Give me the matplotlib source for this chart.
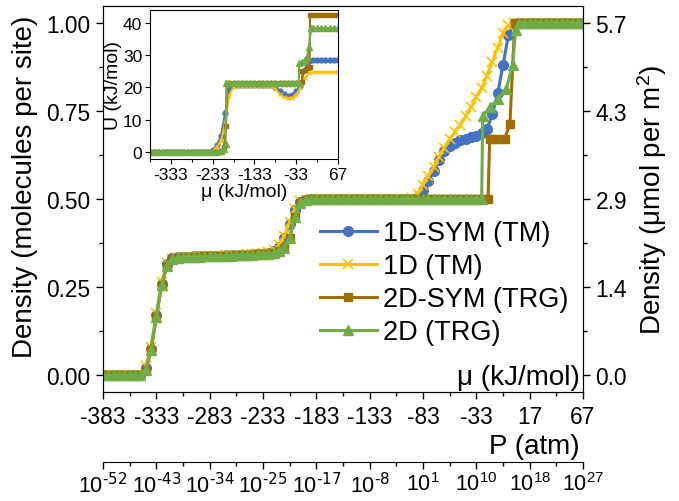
import matplotlib.pyplot as plt
from matplotlib.ticker import AutoMinorLocator

plt.rcParams['font.family'] = ['Liberation Sans', 'DejaVu Sans']
plt.rcParams['mathtext.default'] = 'regular'

# ---- main panel: density vs chemical potential (kJ/mol) ----
mu = [-383, -378, -373, -368, -363, -358, -353, -348, -343, -338,
      -333, -328, -323, -318, -313, -308, -303, -298, -293, -288,
      -283, -278, -273, -268, -263, -258, -253, -248, -243, -238,
      -233, -228, -223, -218, -213, -208, -203, -198, -193, -188,
      -183, -178, -173, -168, -163, -158, -153, -148, -143, -138,
      -133, -128, -123, -118, -113, -108, -103, -98, -93, -88,
      -83, -78, -73, -68, -63, -58, -53, -48, -43, -38,
      -33, -28, -23, -18, -13, -8, -3, 2, 7, 12,
      17, 22, 27, 32, 37, 42, 47, 52, 57, 62,
      67]

dens_1dsym = [0, 0, 0, 0, 0, 0, 0, 0, 0.02, 0.075,
              0.17, 0.26, 0.315, 0.332, 0.334, 0.335, 0.336, 0.337, 0.337, 0.338,
              0.338, 0.339, 0.339, 0.34, 0.34, 0.341, 0.342, 0.342, 0.343, 0.344,
              0.345, 0.347, 0.352, 0.365, 0.39, 0.43, 0.47, 0.492, 0.498, 0.5,
              0.5, 0.5, 0.5, 0.5, 0.5, 0.5, 0.5, 0.5, 0.5, 0.5,
              0.5, 0.5, 0.5, 0.5, 0.5, 0.5, 0.5, 0.5, 0.5, 0.505,
              0.525, 0.55, 0.58, 0.61, 0.635, 0.65, 0.66, 0.667, 0.671, 0.675,
              0.68, 0.687, 0.70, 0.74, 0.80, 0.88, 0.965, 0.998, 1.0, 1.0,
              1.0, 1.0, 1.0, 1.0, 1.0, 1.0, 1.0, 1.0, 1.0, 1.0,
              1.0]

dens_1d = [0, 0, 0, 0, 0, 0, 0, 0, 0.025, 0.08,
           0.175, 0.265, 0.318, 0.331, 0.333, 0.334, 0.335, 0.336, 0.337, 0.337,
           0.338, 0.338, 0.339, 0.34, 0.34, 0.341, 0.342, 0.343, 0.344, 0.345,
           0.347, 0.35, 0.356, 0.37, 0.395, 0.435, 0.472, 0.493, 0.498, 0.5,
           0.5, 0.5, 0.5, 0.5, 0.5, 0.5, 0.5, 0.5, 0.5, 0.5,
           0.5, 0.5, 0.5, 0.5, 0.5, 0.5, 0.5, 0.5, 0.502, 0.515,
           0.54, 0.565, 0.59, 0.62, 0.645, 0.67, 0.69, 0.71, 0.735, 0.76,
           0.79, 0.815, 0.85, 0.89, 0.93, 0.97, 0.993, 1.0, 1.0, 1.0,
           1.0, 1.0, 1.0, 1.0, 1.0, 1.0, 1.0, 1.0, 1.0, 1.0,
           1.0]

# TRG curves overlap up to -33 kJ/mol
trg_low = [0, 0, 0, 0, 0, 0, 0, 0, 0.015, 0.07,
           0.165, 0.255, 0.31, 0.33, 0.333, 0.334, 0.335, 0.336, 0.336, 0.337,
           0.337, 0.338, 0.338, 0.339, 0.339, 0.34, 0.34, 0.341, 0.342, 0.343,
           0.344, 0.345, 0.347, 0.352, 0.362, 0.39, 0.45, 0.49, 0.498, 0.5,
           0.5, 0.5, 0.5, 0.5, 0.5, 0.5, 0.5, 0.5, 0.5, 0.5,
           0.5, 0.5, 0.5, 0.5, 0.5, 0.5, 0.5, 0.5, 0.5, 0.5,
           0.5, 0.5, 0.5, 0.5, 0.5, 0.5, 0.5, 0.5, 0.5, 0.5,
           0.5]
top_mu = [12, 17, 22, 27, 32, 37, 42, 47, 52, 57, 62, 67]
top_dens = [1.0, 1.0, 1.0, 1.0, 1.0, 1.0, 1.0, 1.0, 1.0, 1.0, 1.0, 1.0]

mu_2dsym = mu[:71] + [-28, -22, -20.5, -17, -12.5, -6.5, -1.5, 3, 7] + top_mu
dens_2dsym = trg_low + [0.5, 0.5, 0.67, 0.67, 0.67, 0.67, 0.713, 1.0, 1.0] + top_dens

mu_2d = mu[:71] + [-28, -27, -20, -13, -5, 1, 4, 7] + top_mu
dens_2d = trg_low + [0.5, 0.736, 0.761, 0.784, 0.812, 0.88, 0.98, 1.0] + top_dens

mu_ticks = [-383, -333, -283, -233, -183, -133, -83, -33, 17, 67]
mu_labels = ['-383', '-333', '-283', '-233', '-183', '-133', '-83', '-33', '17', '67']
p_labels = [r'$10^{\text{-52}}$', r'$10^{\text{-43}}$', r'$10^{\text{-34}}$',
            r'$10^{\text{-25}}$', r'$10^{\text{-17}}$', r'$10^{\text{-8}}$',
            r'$10^{1}$', r'$10^{10}$', r'$10^{18}$', r'$10^{27}$']
site_ticks = [0, 0.25, 0.5, 0.75, 1.0]
site_labels = ['0.00', '0.25', '0.50', '0.75', '1.00']
area_labels = ['0.0', '1.4', '2.9', '4.3', '5.7']

# ---- inset: U (kJ/mol) vs mu ----
inset_mu = [-383, -373, -363, -353, -343, -333, -323, -313, -303, -293,
            -283, -273, -263, -253, -243, -233, -223, -213, -203, -193,
            -183, -173, -163, -153, -143, -133, -123, -113, -103, -93,
            -83, -73, -63, -53, -43, -33, -23, -13, -3, 7,
            17, 27, 37, 47, 57, 67]

u_1dsym = [0, 0, 0, 0, 0, 0, 0, 0, 0, 0,
           0, 0, 0, 0, 0, 0.5, 2.0, 5.0, 12.0, 19.5,
           20.7, 20.8, 20.8, 20.8, 20.8, 20.8, 20.8, 20.8, 20.8, 20.8,
           20.2, 19.0, 18.0, 17.5, 17.6, 18.8, 20.5, 25.5, 28.2, 28.4,
           28.4, 28.4, 28.4, 28.4, 28.4, 28.4]

u_1d = [0, 0, 0, 0, 0, 0, 0, 0, 0, 0,
        0, 0, 0, 0, 0, 0.3, 1.5, 3.5, 9.0, 17.5,
        20.3, 20.6, 20.6, 20.6, 20.6, 20.6, 20.6, 20.6, 20.6, 20.6,
        19.6, 18.0, 17.0, 16.6, 16.8, 17.8, 20.0, 22.8, 24.4, 24.8,
        24.8, 24.8, 24.8, 24.8, 24.8, 24.8]

u_trg_mid = [21.5, 21.5, 21.5, 21.5, 21.5, 21.5, 21.5, 21.5, 21.5,
             21.5, 21.5, 21.5, 21.5, 21.5, 21.5, 21.5, 21.5]
u_trg_low = [0, 0, 0, 0, 0, 0, 0, 0, 0, 0,
             0, 0, 0, 0, 0, 0, 0, 0.3]

u_mu_2dsym = inset_mu[:18] + [-206, -201, -199] + inset_mu[19:36] + \
    [-19, -18, -13, -6, -1, 0, 7] + inset_mu[40:]
u_2dsym = u_trg_low + [1.5, 8.0, 21.5] + u_trg_mid + \
    [21.8, 25.2, 25.5, 26.0, 26.5, 42.5, 42.5] + [42.5, 42.5, 42.5, 42.5, 42.5, 42.5]

u_mu_2d = inset_mu[:18] + [-206, -202, -200] + inset_mu[19:36] + \
    [-27, -26, -20, -13, -7, -3, 3, 7] + inset_mu[40:]
u_2d = u_trg_low + [1.0, 2.5, 21.5] + u_trg_mid + \
    [21.5, 27.5, 28.0, 28.5, 29.5, 32.5, 38.4, 38.4] + [38.4, 38.4, 38.4, 38.4, 38.4, 38.4]

inset_ticks = [-333, -233, -133, -33, 67]
inset_labels = ['-333', '-233', '-133', '-33', '67']

c_blue, c_yellow, c_brown, c_green = '#4472C4', '#FFC000', '#A06E00', '#70AD47'

fig = plt.figure(figsize=(6.79, 5.02), dpi=100)
ax = fig.add_axes([0.1517, 0.2171, 0.7069, 0.769])

ax.plot(mu, dens_1dsym, color=c_blue, lw=2.2, marker='o', ms=7, label='1D-SYM (TM)')
ax.plot(mu, dens_1d, color=c_yellow, lw=2.2, marker='x', ms=6.5, mew=1.2, label='1D (TM)')
ax.plot(mu_2dsym, dens_2dsym, color=c_brown, lw=2.2, marker='s', ms=6, label='2D-SYM (TRG)')
ax.plot(mu_2d, dens_2d, color=c_green, lw=2.2, marker='^', ms=7.5, label='2D (TRG)')

ax.set_xlim(-383, 67)
ax.set_ylim(-0.048, 1.048)
ax.set_xticks(mu_ticks, labels=mu_labels)
ax.set_yticks(site_ticks, labels=site_labels)
ax.xaxis.set_minor_locator(AutoMinorLocator(2))
ax.yaxis.set_minor_locator(AutoMinorLocator(2))
ax.tick_params(which='both', direction='out', width=1, top=False, right=False)
ax.tick_params(which='major', length=5, labelsize=16.4, pad=4)
ax.tick_params(which='minor', length=3)
ax.set_ylabel('Density (molecules per site)', fontsize=20)
ax.yaxis.set_label_coords(-0.135, 0.534)
ax.text(0.993, 0.039, 'μ (kJ/mol)', transform=ax.transAxes, ha='right', va='center', fontsize=20)

ax2 = ax.twinx()
ax2.set_ylim(-0.048, 1.048)
ax2.set_yticks(site_ticks, labels=area_labels)
ax2.yaxis.set_minor_locator(AutoMinorLocator(2))
ax2.tick_params(which='both', direction='out', width=1)
ax2.tick_params(which='major', length=5, labelsize=16.4, pad=4)
ax2.tick_params(which='minor', length=3)
ax2.set_ylabel('Density (μmol per m$^2$)', fontsize=20, labelpad=6)

sec = ax.secondary_xaxis(-0.181)
sec.set_xticks(mu_ticks, labels=p_labels)
sec.xaxis.set_minor_locator(AutoMinorLocator(2))
sec.tick_params(which='both', direction='out', width=1)
sec.tick_params(which='major', length=5, labelsize=15.5, pad=2)
sec.tick_params(which='minor', length=3)
fig.text(580 / 679, 1 - 447 / 502, 'P (atm)', ha='right', va='center', fontsize=20)

ax.legend(loc='upper left', bbox_to_anchor=(320 / 679, 1 - 221 / 502),
          bbox_transform=fig.transFigure, frameon=False, fontsize=19.5,
          handlelength=2.1, handletextpad=0.22, labelspacing=0.26,
          borderpad=0, borderaxespad=0)

# inset
axin = fig.add_axes([0.2209, 0.681, 0.2769, 0.297])
axin.plot(inset_mu, u_1dsym, color=c_blue, lw=1.5, marker='o', ms=3.5)
axin.plot(inset_mu, u_1d, color=c_yellow, lw=1.5, marker='x', ms=3.5, mew=0.8)
axin.plot(u_mu_2dsym, u_2dsym, color=c_brown, lw=1.5, marker='s', ms=3.2)
axin.plot(u_mu_2d, u_2d, color=c_green, lw=1.5, marker='^', ms=4)
axin.set_xlim(-383, 67)
axin.set_ylim(-2.3, 44.1)
axin.set_xticks(inset_ticks, labels=inset_labels)
axin.set_yticks([0, 10, 20, 30, 40])
axin.xaxis.set_minor_locator(AutoMinorLocator(2))
axin.tick_params(which='both', direction='out', width=0.8, labelsize=12.5, pad=2)
axin.tick_params(which='major', length=3.5)
axin.tick_params(which='minor', length=2)
axin.set_xlabel('μ (kJ/mol)', fontsize=14, labelpad=1)
axin.set_ylabel('U (kJ/mol)', fontsize=14, labelpad=1)

fig.savefig('out.png', dpi=100)
